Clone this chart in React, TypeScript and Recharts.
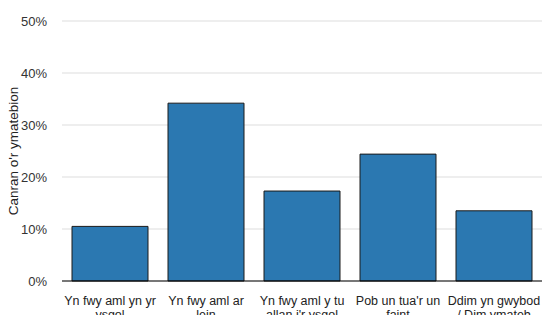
import { BarChart, Bar, XAxis, YAxis, CartesianGrid } from 'recharts'

const categories = [
  'Yn fwy aml yn yr\nysgol',
  'Yn fwy aml ar\nlein',
  'Yn fwy aml y tu\nallan i\'r ysgol',
  'Pob un tua\'r un\nfaint',
  'Ddim yn gwybod\n/ Dim ymateb',
]

const shares = [10.5, 34.2, 17.3, 24.4, 13.5]

const yTicks = [0, 10, 20, 30, 40, 50]

const data = categories.map((name, i) => ({ name, value: shares[i] }))

const font = '"Liberation Sans", Arial, sans-serif'

function CategoryTick({ x, y, payload }: any) {
  const lines = String(payload.value).split('\n')
  return (
    <text x={x} y={y} textAnchor="middle" fontSize={12.5} fill="#222" fontFamily={font}>
      {lines.map((line, i) => (
        <tspan key={i} x={x} dy={i === 0 ? 16 : 14}>
          {line}
        </tspan>
      ))}
    </text>
  )
}

export default function App() {
  return (
    <div style={{ position: 'absolute', left: 0, top: 0, background: '#fff' }}>
      <BarChart
        width={542}
        height={315}
        data={data}
        margin={{ top: 21, right: 0, bottom: 0, left: 0 }}
        barCategoryGap={10}
      >
        <CartesianGrid vertical={false} stroke="#dddddd" />
        <XAxis
          dataKey="name"
          height={34}
          tickLine={false}
          axisLine={{ stroke: '#000' }}
          tick={<CategoryTick />}
          interval={0}
        />
        <YAxis
          width={62}
          domain={[0, 50]}
          ticks={yTicks}
          tickFormatter={(v) => `${v}%`}
          axisLine={false}
          tickLine={false}
          tickMargin={9}
          tick={{ fontSize: 13, fill: '#333', fontFamily: font }}
          label={{
            value: "Canran o'r ymatebion",
            angle: -90,
            position: 'insideLeft',
            offset: 13,
            style: { textAnchor: 'middle', fontSize: 13.5, fill: '#222', fontFamily: font },
          }}
        />
        <Bar dataKey="value" fill="#2b78b1" stroke="#1a1a1a" strokeWidth={1} isAnimationActive={false} />
      </BarChart>
    </div>
  )
}
